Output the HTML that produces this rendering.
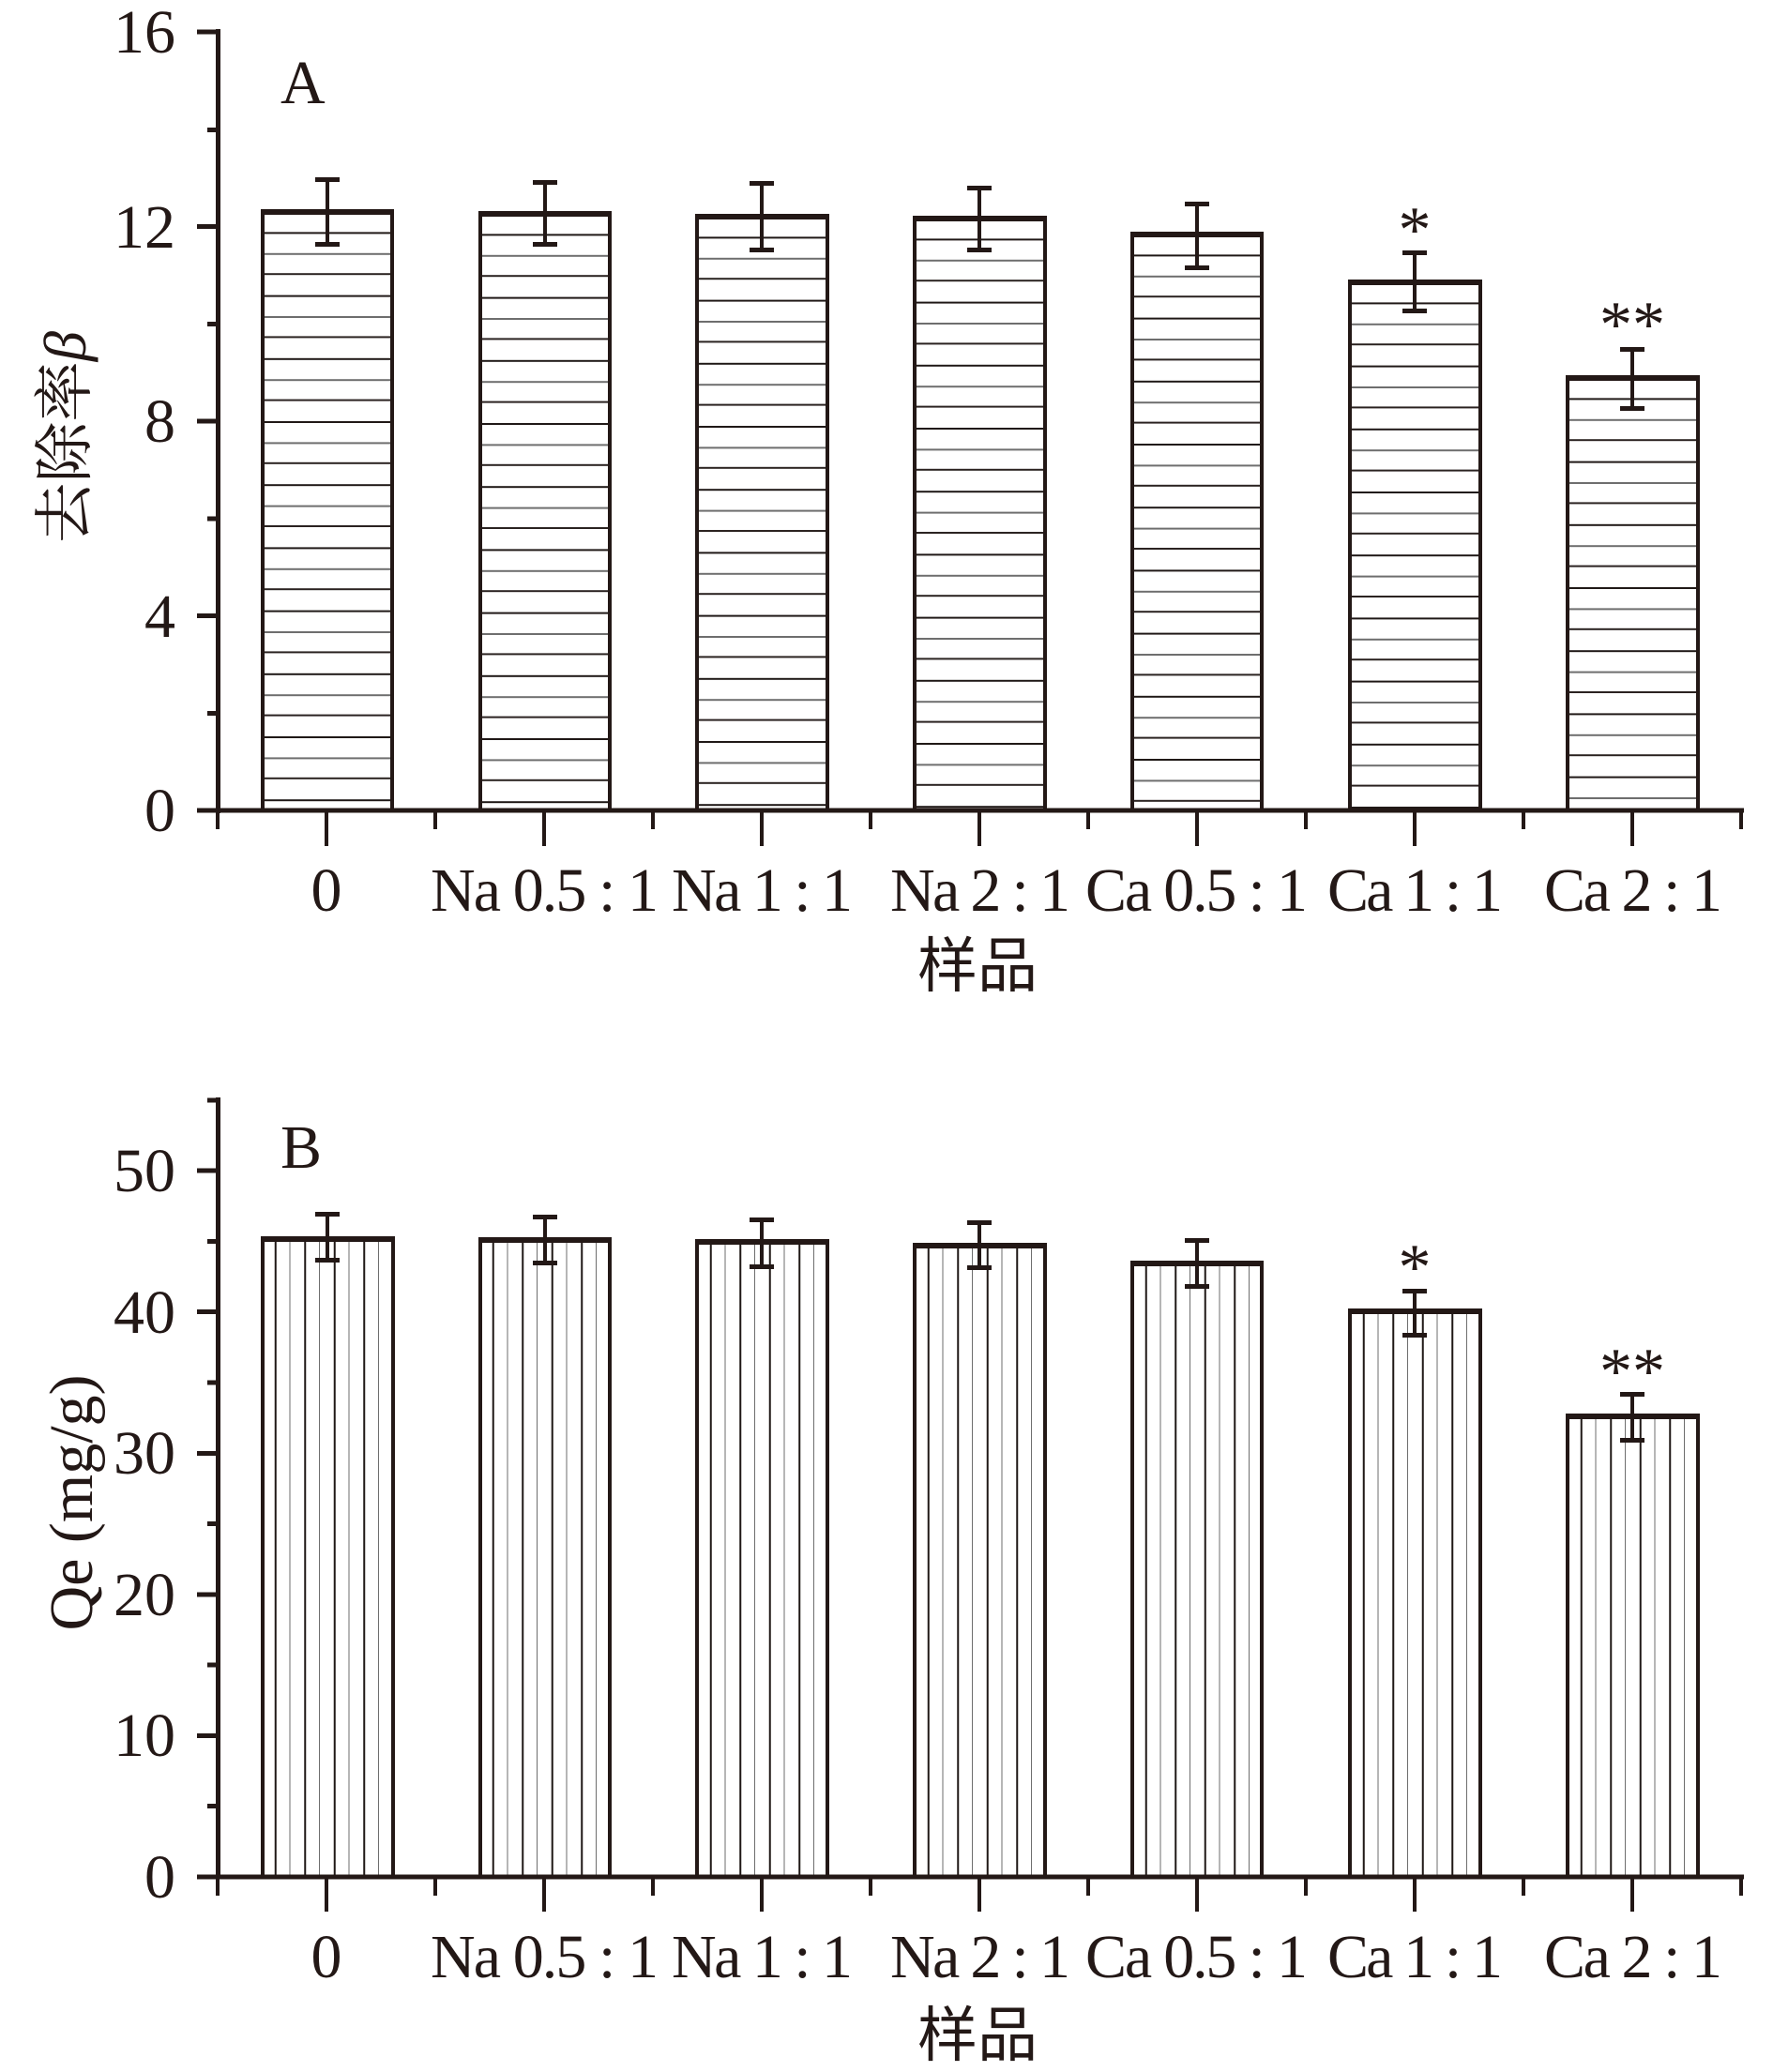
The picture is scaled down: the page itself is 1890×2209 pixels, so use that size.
<!DOCTYPE html>
<html>
<head>
<meta charset="utf-8">
<style>
html,body{margin:0;padding:0;background:#fff;}
svg{display:block;}
text{font-family:"Liberation Serif",serif;fill:#231816;}
</style>
</head>
<body>
<svg width="1890" height="2209" viewBox="0 0 1890 2209" xmlns="http://www.w3.org/2000/svg">
<defs>
  <pattern id="a0" patternUnits="userSpaceOnUse" x="0" y="226" width="200" height="67.2"><rect x="0" y="21.4" width="200" height="2" fill="#1f1816"/><rect x="0" y="43.8" width="200" height="2" fill="#6e6e6e"/><rect x="0" y="65.2" width="200" height="2" fill="#2a2220"/></pattern>
  <pattern id="a1" patternUnits="userSpaceOnUse" x="0" y="228" width="200" height="67.2"><rect x="0" y="21.4" width="200" height="2" fill="#1f1816"/><rect x="0" y="43.8" width="200" height="2" fill="#6e6e6e"/><rect x="0" y="65.2" width="200" height="2" fill="#2a2220"/></pattern>
  <pattern id="a2" patternUnits="userSpaceOnUse" x="0" y="231" width="200" height="67.2"><rect x="0" y="21.4" width="200" height="2" fill="#1f1816"/><rect x="0" y="43.8" width="200" height="2" fill="#6e6e6e"/><rect x="0" y="65.2" width="200" height="2" fill="#2a2220"/></pattern>
  <pattern id="a3" patternUnits="userSpaceOnUse" x="0" y="233" width="200" height="67.2"><rect x="0" y="21.4" width="200" height="2" fill="#1f1816"/><rect x="0" y="43.8" width="200" height="2" fill="#6e6e6e"/><rect x="0" y="65.2" width="200" height="2" fill="#2a2220"/></pattern>
  <pattern id="a4" patternUnits="userSpaceOnUse" x="0" y="250" width="200" height="67.2"><rect x="0" y="21.4" width="200" height="2" fill="#1f1816"/><rect x="0" y="43.8" width="200" height="2" fill="#6e6e6e"/><rect x="0" y="65.2" width="200" height="2" fill="#2a2220"/></pattern>
  <pattern id="a5" patternUnits="userSpaceOnUse" x="0" y="301" width="200" height="67.2"><rect x="0" y="21.4" width="200" height="2" fill="#1f1816"/><rect x="0" y="43.8" width="200" height="2" fill="#6e6e6e"/><rect x="0" y="65.2" width="200" height="2" fill="#2a2220"/></pattern>
  <pattern id="a6" patternUnits="userSpaceOnUse" x="0" y="403" width="200" height="67.2"><rect x="0" y="21.4" width="200" height="2" fill="#1f1816"/><rect x="0" y="43.8" width="200" height="2" fill="#6e6e6e"/><rect x="0" y="65.2" width="200" height="2" fill="#2a2220"/></pattern>
  <pattern id="b0" patternUnits="userSpaceOnUse" x="278" y="0" width="31.5" height="100"><rect x="14.75" y="0" width="2" height="100" fill="#1f1816"/><rect x="30.5" y="0" width="2" height="100" fill="#6e6e6e"/></pattern>
  <pattern id="b1" patternUnits="userSpaceOnUse" x="510" y="0" width="31.5" height="100"><rect x="14.75" y="0" width="2" height="100" fill="#1f1816"/><rect x="30.5" y="0" width="2" height="100" fill="#6e6e6e"/></pattern>
  <pattern id="b2" patternUnits="userSpaceOnUse" x="742" y="0" width="31.5" height="100"><rect x="14.75" y="0" width="2" height="100" fill="#1f1816"/><rect x="30.5" y="0" width="2" height="100" fill="#6e6e6e"/></pattern>
  <pattern id="b3" patternUnits="userSpaceOnUse" x="974" y="0" width="31.5" height="100"><rect x="14.75" y="0" width="2" height="100" fill="#1f1816"/><rect x="30.5" y="0" width="2" height="100" fill="#6e6e6e"/></pattern>
  <pattern id="b4" patternUnits="userSpaceOnUse" x="1206" y="0" width="31.5" height="100"><rect x="14.75" y="0" width="2" height="100" fill="#1f1816"/><rect x="30.5" y="0" width="2" height="100" fill="#6e6e6e"/></pattern>
  <pattern id="b5" patternUnits="userSpaceOnUse" x="1438" y="0" width="31.5" height="100"><rect x="14.75" y="0" width="2" height="100" fill="#1f1816"/><rect x="30.5" y="0" width="2" height="100" fill="#6e6e6e"/></pattern>
  <pattern id="b6" patternUnits="userSpaceOnUse" x="1670" y="0" width="31.5" height="100"><rect x="14.75" y="0" width="2" height="100" fill="#1f1816"/><rect x="30.5" y="0" width="2" height="100" fill="#6e6e6e"/></pattern>
</defs>

<rect x="0" y="0" width="1890" height="2209" fill="#fff"/>

<!-- ================= PANEL A ================= -->
<g id="panelA">
  <g stroke="#231816" stroke-width="4">
    <rect x="280" y="226" width="138" height="638" fill="url(#a0)"/>
    <rect x="512" y="228" width="138" height="636" fill="url(#a1)"/>
    <rect x="743" y="231" width="139" height="633" fill="url(#a2)"/>
    <rect x="975" y="233" width="139" height="631" fill="url(#a3)"/>
    <rect x="1207" y="250" width="138" height="614" fill="url(#a4)"/>
    <rect x="1439" y="301" width="139" height="563" fill="url(#a5)"/>
    <rect x="1671" y="403" width="139" height="461" fill="url(#a6)"/>
  </g>
  <g fill="#231816">
    <rect x="278" y="223" width="142" height="6"/>
    <rect x="510" y="225" width="142" height="6"/>
    <rect x="741" y="228" width="143" height="6"/>
    <rect x="973" y="230" width="143" height="6"/>
    <rect x="1205" y="247" width="142" height="6"/>
    <rect x="1437" y="298" width="143" height="6"/>
    <rect x="1669" y="400" width="143" height="6"/>
  </g>
  <g fill="#231816">
    <rect x="347" y="191" width="4" height="70"/><rect x="336" y="189" width="26" height="5"/><rect x="336" y="258" width="26" height="5"/>
    <rect x="579" y="194" width="4" height="67"/><rect x="568" y="192" width="26" height="5"/><rect x="568" y="258" width="26" height="5"/>
    <rect x="810" y="195" width="4" height="72"/><rect x="799" y="193" width="26" height="5"/><rect x="799" y="264" width="26" height="5"/>
    <rect x="1042" y="200" width="4" height="67"/><rect x="1031" y="198" width="26" height="5"/><rect x="1031" y="264" width="26" height="5"/>
    <rect x="1274" y="217" width="4" height="69"/><rect x="1263" y="215" width="26" height="5"/><rect x="1263" y="283" width="26" height="5"/>
    <rect x="1506" y="269" width="4" height="63"/><rect x="1495" y="267" width="26" height="5"/><rect x="1495" y="329" width="26" height="5"/>
    <rect x="1738" y="372" width="4" height="64"/><rect x="1727" y="370" width="26" height="5"/><rect x="1727" y="433" width="26" height="5"/>
  </g>
  <text x="1508" y="268" font-size="70" text-anchor="middle">*</text>
  <text x="1740" y="369" font-size="70" text-anchor="middle">**</text>

  <rect x="230" y="31" width="5" height="836" fill="#231816"/>
  <g fill="#231816">
    <rect x="210" y="31.5" width="22" height="5"/>
    <rect x="210" y="239" width="22" height="5"/>
    <rect x="210" y="446.5" width="22" height="5"/>
    <rect x="210" y="654" width="22" height="5"/>
    <rect x="221" y="136" width="11" height="5"/>
    <rect x="221" y="343" width="11" height="5"/>
    <rect x="221" y="550.5" width="11" height="5"/>
    <rect x="221" y="758" width="11" height="5"/>
  </g>
  <rect x="210" y="861.5" width="1649" height="5" fill="#231816"/>
  <g stroke="#231816" stroke-width="4">
    <line x1="232" y1="864" x2="232" y2="884"/>
    <line x1="464" y1="864" x2="464" y2="884"/>
    <line x1="696" y1="864" x2="696" y2="884"/>
    <line x1="928" y1="864" x2="928" y2="884"/>
    <line x1="1160" y1="864" x2="1160" y2="884"/>
    <line x1="1392" y1="864" x2="1392" y2="884"/>
    <line x1="1624" y1="864" x2="1624" y2="884"/>
    <line x1="1856" y1="864" x2="1856" y2="884"/>
    <line x1="348" y1="864" x2="348" y2="902"/>
    <line x1="580" y1="864" x2="580" y2="902"/>
    <line x1="812" y1="864" x2="812" y2="902"/>
    <line x1="1044" y1="864" x2="1044" y2="902"/>
    <line x1="1276" y1="864" x2="1276" y2="902"/>
    <line x1="1508" y1="864" x2="1508" y2="902"/>
    <line x1="1740" y1="864" x2="1740" y2="902"/>
  </g>
  <g font-size="66" text-anchor="end">
    <text x="187" y="886">0</text>
    <text x="187" y="679">4</text>
    <text x="187" y="471">8</text>
    <text x="187" y="264">12</text>
    <text x="187" y="56">16</text>
  </g>
  <g font-size="66">
    <text x="348" y="971" text-anchor="middle">0</text>
    <text x="459" y="971" textLength="243" lengthAdjust="spacing">Na 0.5 : 1</text>
    <text x="716" y="971" textLength="193" lengthAdjust="spacing">Na 1 : 1</text>
    <text x="949" y="971" textLength="192" lengthAdjust="spacing">Na 2 : 1</text>
    <text x="1157" y="971" textLength="237" lengthAdjust="spacing">Ca 0.5 : 1</text>
    <text x="1415" y="971" textLength="187" lengthAdjust="spacing">Ca 1 : 1</text>
    <text x="1646" y="971" textLength="190" lengthAdjust="spacing">Ca 2 : 1</text>
  </g>
  <text x="299" y="110" font-size="66">A</text>
  <text x="1042" y="1052" font-size="64" text-anchor="middle" style="font-family:'Noto Sans CJK SC','Noto Serif CJK SC',sans-serif;">样品</text>
  <text transform="translate(91,466) rotate(-90)" x="-113" y="0" font-size="64" textLength="226" lengthAdjust="spacingAndGlyphs" style="font-family:'Liberation Serif','Noto Serif CJK SC',serif;">去除率<tspan font-style="italic">β</tspan></text>
</g>

<!-- ================= PANEL B ================= -->
<g id="panelB">
  <g stroke="#231816" stroke-width="4">
    <rect x="280" y="1321" width="139" height="680" fill="url(#b0)"/>
    <rect x="512" y="1322" width="138" height="679" fill="url(#b1)"/>
    <rect x="743" y="1324" width="139" height="677" fill="url(#b2)"/>
    <rect x="975" y="1328" width="139" height="673" fill="url(#b3)"/>
    <rect x="1207" y="1347" width="138" height="654" fill="url(#b4)"/>
    <rect x="1439" y="1398" width="139" height="603" fill="url(#b5)"/>
    <rect x="1671" y="1510" width="139" height="491" fill="url(#b6)"/>
  </g>
  <g fill="#231816">
    <rect x="278" y="1318" width="143" height="6"/>
    <rect x="510" y="1319" width="142" height="6"/>
    <rect x="741" y="1321" width="143" height="6"/>
    <rect x="973" y="1325" width="143" height="6"/>
    <rect x="1205" y="1344" width="142" height="6"/>
    <rect x="1437" y="1395" width="143" height="6"/>
    <rect x="1669" y="1507" width="143" height="6"/>
  </g>
  <g fill="#231816">
    <rect x="347" y="1294" width="4" height="50"/><rect x="336" y="1292" width="26" height="5"/><rect x="336" y="1341" width="26" height="5"/>
    <rect x="579" y="1297" width="4" height="50"/><rect x="568" y="1295" width="26" height="5"/><rect x="568" y="1344" width="26" height="5"/>
    <rect x="810" y="1300" width="4" height="51"/><rect x="799" y="1298" width="26" height="5"/><rect x="799" y="1348" width="26" height="5"/>
    <rect x="1042" y="1303" width="4" height="49"/><rect x="1031" y="1301" width="26" height="5"/><rect x="1031" y="1349" width="26" height="5"/>
    <rect x="1274" y="1322" width="4" height="50"/><rect x="1263" y="1320" width="26" height="5"/><rect x="1263" y="1369" width="26" height="5"/>
    <rect x="1506" y="1376" width="4" height="48"/><rect x="1495" y="1374" width="26" height="5"/><rect x="1495" y="1421" width="26" height="5"/>
    <rect x="1738" y="1486" width="4" height="50"/><rect x="1727" y="1484" width="26" height="5"/><rect x="1727" y="1533" width="26" height="5"/>
  </g>
  <text x="1508" y="1374" font-size="70" text-anchor="middle">*</text>
  <text x="1740" y="1485" font-size="70" text-anchor="middle">**</text>

  <rect x="230" y="1170" width="5" height="833" fill="#231816"/>
  <g fill="#231816">
    <rect x="210" y="1245.5" width="22" height="5"/>
    <rect x="210" y="1396" width="22" height="5"/>
    <rect x="210" y="1547" width="22" height="5"/>
    <rect x="210" y="1697.5" width="22" height="5"/>
    <rect x="210" y="1848" width="22" height="5"/>
    <rect x="221" y="1170.5" width="11" height="5"/>
    <rect x="221" y="1321" width="11" height="5"/>
    <rect x="221" y="1471.5" width="11" height="5"/>
    <rect x="221" y="1622" width="11" height="5"/>
    <rect x="221" y="1772.5" width="11" height="5"/>
    <rect x="221" y="1923" width="11" height="5"/>
  </g>
  <rect x="210" y="1998.5" width="1649" height="5" fill="#231816"/>
  <g stroke="#231816" stroke-width="4">
    <line x1="232" y1="2001" x2="232" y2="2021"/>
    <line x1="464" y1="2001" x2="464" y2="2021"/>
    <line x1="696" y1="2001" x2="696" y2="2021"/>
    <line x1="928" y1="2001" x2="928" y2="2021"/>
    <line x1="1160" y1="2001" x2="1160" y2="2021"/>
    <line x1="1392" y1="2001" x2="1392" y2="2021"/>
    <line x1="1624" y1="2001" x2="1624" y2="2021"/>
    <line x1="1856" y1="2001" x2="1856" y2="2021"/>
    <line x1="348" y1="2001" x2="348" y2="2038"/>
    <line x1="580" y1="2001" x2="580" y2="2038"/>
    <line x1="812" y1="2001" x2="812" y2="2038"/>
    <line x1="1044" y1="2001" x2="1044" y2="2038"/>
    <line x1="1276" y1="2001" x2="1276" y2="2038"/>
    <line x1="1508" y1="2001" x2="1508" y2="2038"/>
    <line x1="1740" y1="2001" x2="1740" y2="2038"/>
  </g>
  <g font-size="66" text-anchor="end">
    <text x="187" y="2023">0</text>
    <text x="187" y="1872">10</text>
    <text x="187" y="1722">20</text>
    <text x="187" y="1571">30</text>
    <text x="187" y="1421">40</text>
    <text x="187" y="1270">50</text>
  </g>
  <g font-size="66">
    <text x="348" y="2108" text-anchor="middle">0</text>
    <text x="459" y="2108" textLength="243" lengthAdjust="spacing">Na 0.5 : 1</text>
    <text x="716" y="2108" textLength="193" lengthAdjust="spacing">Na 1 : 1</text>
    <text x="949" y="2108" textLength="192" lengthAdjust="spacing">Na 2 : 1</text>
    <text x="1157" y="2108" textLength="237" lengthAdjust="spacing">Ca 0.5 : 1</text>
    <text x="1415" y="2108" textLength="187" lengthAdjust="spacing">Ca 1 : 1</text>
    <text x="1646" y="2108" textLength="190" lengthAdjust="spacing">Ca 2 : 1</text>
  </g>
  <text x="299" y="1245" font-size="66">B</text>
  <text x="1042" y="2192" font-size="64" text-anchor="middle" style="font-family:'Noto Sans CJK SC','Noto Serif CJK SC',sans-serif;">样品</text>
  <text transform="translate(98,1602) rotate(-90)" font-size="66" text-anchor="middle">Qe (mg/g)</text>
</g>
</svg>
</body>
</html>
